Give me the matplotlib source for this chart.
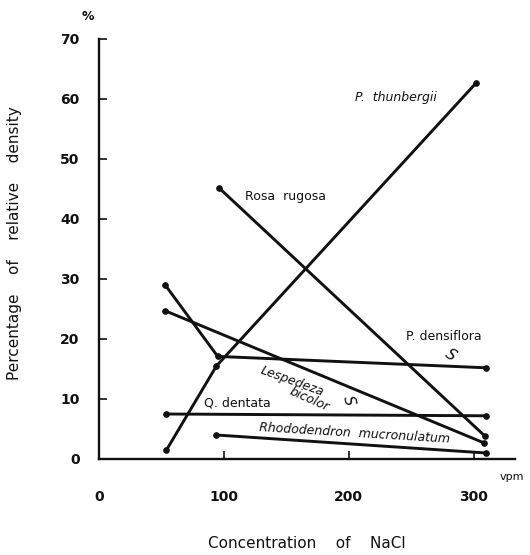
import matplotlib
matplotlib.use("Agg")
import matplotlib.pyplot as plt

# series (x in vpm NaCl, y in % relative density)
thunbergii_x = [54, 94, 302]
thunbergii_y = [1.5, 15.5, 62.7]
rugosa_x = [96, 309]
rugosa_y = [45.2, 3.8]
densiflora_x = [53, 95, 310]
densiflora_y = [29.0, 17.1, 15.2]
lespedeza_x = [53, 308]
lespedeza_y = [24.7, 2.7]
dentata_x = [54, 310]
dentata_y = [7.5, 7.2]
rhodo_x = [94, 310]
rhodo_y = [4.0, 1.0]

xticks = [0, 100, 200, 300]
yticks = [0, 10, 20, 30, 40, 50, 60, 70]

INK = "#111111"

fig = plt.figure(figsize=(5.3, 5.55), dpi=100)
ax = fig.add_axes([99 / 530, 1 - 459 / 555, 416 / 530, 420 / 555])
ax.set_xlim(0, 333)
ax.set_ylim(0, 70)
ax.patch.set_alpha(0)
for s in ("top", "right"):
    ax.spines[s].set_visible(False)
for s in ("left", "bottom"):
    ax.spines[s].set_linewidth(1.7)
    ax.spines[s].set_color(INK)
ax.spines["left"].set_bounds(0, 70)

ax.set_yticks(yticks)
ax.set_xticks(xticks)
ax.tick_params(axis="y", direction="in", length=6, width=1.2, pad=14,
               labelsize=10, colors=INK)
ax.tick_params(axis="x", direction="in", length=6, width=1.2, pad=22,
               labelsize=10, colors=INK)
for lab in ax.get_xticklabels() + ax.get_yticklabels():
    lab.set_fontweight("bold")
ax.xaxis.get_major_ticks()[0].tick1line.set_visible(False)
ax.yaxis.get_major_ticks()[0].tick1line.set_visible(False)

style = dict(color=INK, lw=2.1, marker="o", ms=3.8, solid_capstyle="round")
for xs, ys in [(thunbergii_x, thunbergii_y), (rugosa_x, rugosa_y),
               (densiflora_x, densiflora_y), (lespedeza_x, lespedeza_y),
               (dentata_x, dentata_y), (rhodo_x, rhodo_y)]:
    ax.plot(xs, ys, **style)

lbl = dict(fontsize=9, color=INK, va="center")
ax.text(205, 60.2, "P.  thunbergii", style="italic", **lbl)
ax.text(117, 43.8, "Rosa  rugosa", **lbl)
ax.text(246, 20.5, "P. densiflora", **lbl)
ax.text(84, 9.3, "Q. dentata", **lbl)
ax.text(128, 5.2, "Rhododendron  mucronulatum", style="italic", rotation=-3.5,
        rotation_mode="anchor", **lbl)
ax.text(131, 15.8, "Lespedeza", style="italic", rotation=-20, fontsize=9,
        color=INK, ha="left", va="top", rotation_mode="anchor")
ax.text(155, 12.3, "bicolor", style="italic", rotation=-24, fontsize=9,
        color=INK, ha="left", va="top", rotation_mode="anchor")
ax.text(281, 17.4, "S", fontsize=11, style="italic", rotation=-35, color=INK,
        ha="center", va="center")
ax.text(200, 9.8, "S", fontsize=11, style="italic", rotation=-75, color=INK,
        ha="center", va="center")

ax.text(-9, 73.8, "%", fontsize=9, fontweight="bold", color=INK,
        ha="center", va="center")
ax.text(340, -3.0, "vpm", fontsize=8, color=INK, ha="right", va="center")
fig.text(15 / 530, 1 - 243 / 555, "Percentage    of    relative    density",
         rotation=90, fontsize=11, color=INK, ha="center", va="center")
fig.text(307 / 530, 1 - 543 / 555, "Concentration    of    NaCl",
         fontsize=11, color=INK, ha="center", va="center")

fig.savefig("out.png", dpi=100, facecolor="white")
